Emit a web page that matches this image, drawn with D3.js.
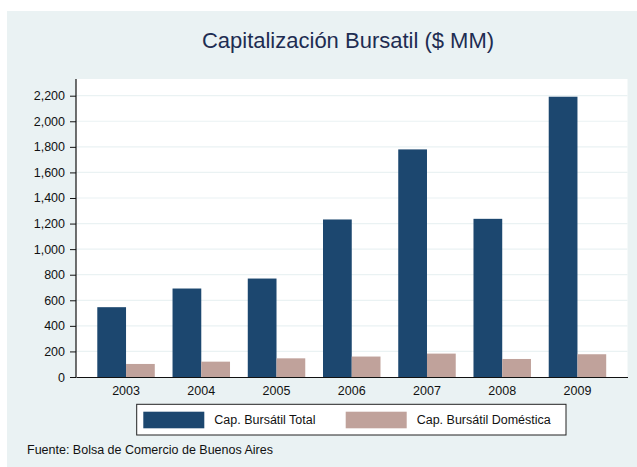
<html>
<head>
<meta charset="utf-8">
<script src="https://cdn.jsdelivr.net/npm/d3@7"></script>
<style>
  body { margin: 0; background: #fff; }
  text { font-family: "Liberation Sans", Arial, Helvetica, sans-serif; }
</style>
<title>Capitalización Bursatil</title>
</head>
<body>
<script>
// data
var years = ["2003", "2004", "2005", "2006", "2007", "2008", "2009"];
var capTotal = [546, 692, 770, 1232, 1780, 1237, 2192];
var capDomestica = [102, 120, 146, 160, 183, 141, 178];
var yTicks = [0, 200, 400, 600, 800, 1000, 1200, 1400, 1600, 1800, 2000, 2200];
var seriesNames = ["Cap. Bursátil Total", "Cap. Bursátil Doméstica"];
var seriesColors = ["#1c476f", "#c0a29b"];

var w = 637, h = 467;
var plot = { left: 76, right: 627.5, top: 79, bottom: 377 };

var svg = d3.select("body").append("svg")
  .attr("width", w)
  .attr("height", h);

// outer light background
svg.append("rect")
  .attr("x", 7).attr("y", 11)
  .attr("width", w - 7).attr("height", h - 11)
  .attr("fill", "#eaf2f3");

// plot area
svg.append("rect")
  .attr("x", plot.left).attr("y", plot.top)
  .attr("width", plot.right - plot.left).attr("height", plot.bottom - plot.top)
  .attr("fill", "#fff");

var y = d3.scaleLinear().domain([0, 2200]).range([plot.bottom, 95.7]);

var x0 = d3.scaleBand().domain(years)
  .range([plot.left, plot.right])
  .paddingInner(0.236)
  .paddingOuter(0.283);

var x1 = d3.scaleBand().domain([0, 1]).range([0, x0.bandwidth()]);

// grid lines
svg.append("g").selectAll("line")
  .data(yTicks.slice(1))
  .enter().append("line")
  .attr("x1", plot.left).attr("x2", plot.right)
  .attr("y1", function(d) { return y(d); })
  .attr("y2", function(d) { return y(d); })
  .attr("stroke", "#eaf2f3")
  .attr("stroke-width", 1.2);

// bars
var rows = years.map(function(yr, i) {
  return { year: yr, vals: [capTotal[i], capDomestica[i]] };
});

var groups = svg.append("g").selectAll("g")
  .data(rows)
  .enter().append("g")
  .attr("transform", function(d) { return "translate(" + x0(d.year) + ",0)"; });

groups.selectAll("rect")
  .data(function(d) { return d.vals; })
  .enter().append("rect")
  .attr("x", function(d, i) { return x1(i); })
  .attr("y", function(d) { return y(d); })
  .attr("width", x1.bandwidth())
  .attr("height", function(d) { return y(0) - y(d); })
  .attr("fill", function(d, i) { return seriesColors[i]; });

// y axis
var yAxis = d3.axisLeft(y)
  .tickValues(yTicks)
  .tickFormat(d3.format(","))
  .tickSize(6)
  .tickSizeOuter(0)
  .tickPadding(5);

var gy = svg.append("g")
  .attr("transform", "translate(" + plot.left + ",0)")
  .call(yAxis);
gy.select(".domain").remove();
gy.selectAll("text").attr("font-size", "12.5px").attr("fill", "#111").style("font-family", null);
gy.selectAll("line").attr("stroke", "#111");

svg.append("line")
  .attr("x1", plot.left).attr("x2", plot.left)
  .attr("y1", plot.top).attr("y2", plot.bottom + 0.5)
  .attr("stroke", "#111").attr("stroke-width", 1.2);

// x axis
var xAxis = d3.axisBottom(x0).tickSize(0).tickPadding(9);
var gx = svg.append("g")
  .attr("transform", "translate(0," + plot.bottom + ")")
  .call(xAxis);
gx.select(".domain").attr("stroke", "#111").attr("stroke-width", 1.2);
gx.selectAll("text").attr("font-size", "12.5px").attr("fill", "#111").style("font-family", null);

// title
svg.append("text")
  .attr("x", 348).attr("y", 48)
  .attr("text-anchor", "middle")
  .attr("font-size", "22px")
  .attr("fill", "#1e2d52")
  .text("Capitalización Bursatil ($ MM)");

// legend
var legend = svg.append("g");
legend.append("rect")
  .attr("x", 136.7).attr("y", 404.3)
  .attr("width", 429.3).attr("height", 30.7)
  .attr("fill", "#fff")
  .attr("stroke", "#222")
  .attr("stroke-width", 1);

var legX = [143.3, 345.7];
seriesNames.forEach(function(name, i) {
  legend.append("rect")
    .attr("x", legX[i]).attr("y", 411.7)
    .attr("width", 61).attr("height", 16.6)
    .attr("fill", seriesColors[i]);
  legend.append("text")
    .attr("x", legX[i] + 71).attr("y", 420)
    .attr("dy", "0.35em")
    .attr("font-size", "12.5px")
    .attr("fill", "#111")
    .text(name);
});

// source note
svg.append("text")
  .attr("x", 27).attr("y", 454)
  .attr("font-size", "12.5px")
  .attr("fill", "#111")
  .text("Fuente: Bolsa de Comercio de Buenos Aires");
</script>
</body>
</html>
